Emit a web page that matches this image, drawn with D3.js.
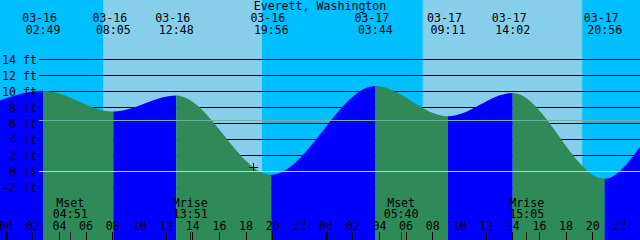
<!DOCTYPE html>
<html>
<head>
<meta charset="utf-8">
<script src="https://cdn.jsdelivr.net/npm/d3@7"></script>
<style>
  html, body { margin: 0; padding: 0; background: #00bfff; overflow: hidden; }
  svg { display: block; }
</style>
</head>
<body>
<svg id="chart-tide"></svg>
<script>
(function () {
  const width = 640;
  const height = 240;

  // values
  const title = "Everett, Washington";
  const extremeTimes = ["03-16 02:49", "03-16 08:05", "03-16 12:48", "03-16 19:56",
                        "03-17 03:44", "03-17 09:11", "03-17 14:02", "03-17 20:56"];
  const extremeLevels = [10.1, 7.5, 9.5, -0.4, 10.7, 6.9, 9.8, -0.9];
  const edgeTimes = ["03-15 23:35", "03-17 23:35"];
  const edgeLevels = [8.9, 3.1];
  const sunTimes = ["03-16 07:19", "03-16 19:14", "03-17 07:17", "03-17 19:15"]; // rise, set, rise, set
  const moonNames = ["Mset", "Mrise", "Mset", "Mrise"];
  const moonTimes = ["03-16 04:51", "03-16 13:51", "03-17 05:40", "03-17 15:05"];
  const levelTicks = [14, 12, 10, 8, 6, 4, 2, 0, -2];
  const mslLevel = 6.4;
  const datumLevel = 0;
  const markTime = "03-16 18:35";
  const markLevel = 0.6;

  const parse = d3.utcParse("%m-%d %H:%M");
  const font = "'DejaVu Sans Mono', monospace";

  const svg = d3
    .select("#chart-tide")
    .attr("width", width)
    .attr("height", height)
    .attr("style", `font: 11.6px ${font}`);

  const xScale = d3
    .scaleUtc()
    .domain([parse(edgeTimes[0]), parse(edgeTimes[1])])
    .range([0, width]);
  const yScale = d3.scaleLinear().domain([0, 14]).range([171.5, 59.5]);

  // sky: night everywhere, day between sunrise and sunset
  svg.append("rect").attr("width", width).attr("height", height).attr("fill", "#00bfff");
  const days = [];
  for (let i = 0; i < sunTimes.length; i += 2) days.push([parse(sunTimes[i]), parse(sunTimes[i + 1])]);
  svg
    .selectAll(".day")
    .data(days)
    .enter()
    .append("rect")
    .attr("x", (d) => xScale(d[0]))
    .attr("y", 0)
    .attr("width", (d) => xScale(d[1]) - xScale(d[0]))
    .attr("height", height)
    .attr("fill", "#87ceeb");

  // black level lines, water covers them
  svg
    .append("g")
    .attr("shape-rendering", "crispEdges")
    .selectAll("line")
    .data(levelTicks)
    .enter()
    .append("line")
    .attr("x1", 39)
    .attr("x2", width)
    .attr("y1", (d) => yScale(d))
    .attr("y2", (d) => yScale(d))
    .attr("stroke", "black");

  // tide curve through the extremes
  const points = edgeTimes
    .map((t, i) => ({ time: parse(t), level: edgeLevels[i] }))
    .concat(extremeTimes.map((t, i) => ({ time: parse(t), level: extremeLevels[i] })))
    .sort((a, b) => a.time - b.time);

  const area = d3
    .area()
    .curve(d3.curveMonotoneX)
    .x((d) => xScale(d.time))
    .y0(height)
    .y1((d) => yScale(d.level));

  svg.append("clipPath").attr("id", "water").append("path").datum(points).attr("d", area);

  const segments = d3.pairs(points);
  svg
    .append("g")
    .attr("clip-path", "url(#water)")
    .selectAll("rect")
    .data(segments)
    .enter()
    .append("rect")
    .attr("x", (d) => xScale(d[0].time))
    .attr("y", 0)
    .attr("width", (d) => xScale(d[1].time) - xScale(d[0].time))
    .attr("height", height)
    .attr("fill", (d) => (d[1].level > d[0].level ? "#0000ff" : "#2e8b57"));

  // mean sea level and datum lines
  svg
    .append("g")
    .attr("shape-rendering", "crispEdges")
    .selectAll("line")
    .data([
      { level: mslLevel, color: "#6db39e" },
      { level: datumLevel, color: "#a6dceb" },
    ])
    .enter()
    .append("line")
    .attr("x1", 39)
    .attr("x2", width)
    .attr("y1", (d) => Math.round(yScale(d.level) - 0.5) + 0.5)
    .attr("y2", (d) => Math.round(yScale(d.level) - 0.5) + 0.5)
    .attr("stroke", (d) => d.color);

  // level labels
  svg
    .append("g")
    .attr("transform", "translate(37,0)")
    .call(d3.axisLeft(yScale).tickValues(levelTicks).tickFormat((d) => `${d} ft`).tickSize(0).tickPadding(0))
    .call((g) => g.select(".domain").remove())
    .call((g) => g.selectAll("text").attr("fill", "black").attr("font-family", font).attr("font-size", "11.6px"));

  // title
  svg
    .append("text")
    .attr("x", width / 2)
    .attr("y", 10)
    .attr("text-anchor", "middle")
    .attr("fill", "black")
    .text(title);

  // high / low tide times
  const ev = svg
    .selectAll(".extreme")
    .data(extremeTimes)
    .enter()
    .append("g")
    .attr("transform", (d) => `translate(${xScale(parse(d))},0)`)
    .attr("text-anchor", "middle")
    .attr("fill", "black");
  ev.append("text").attr("x", -3.5).attr("y", 21.7).text((d) => d.slice(0, 5));
  ev.append("text").attr("y", 33.5).text((d) => d.slice(6));

  // moon rise / set
  const moon = svg
    .selectAll(".moon")
    .data(moonTimes)
    .enter()
    .append("g")
    .attr("transform", (d) => `translate(${xScale(parse(d))},0)`)
    .attr("text-anchor", "middle")
    .attr("fill", "black");
  moon.append("text").attr("y", 206.5).text((d, i) => moonNames[i]);
  moon.append("text").attr("y", 218).text((d) => d.slice(6));
  moon
    .append("line")
    .attr("y1", 232)
    .attr("y2", height)
    .attr("stroke", "#222")
    .attr("shape-rendering", "crispEdges");

  // hour axis along the bottom
  svg
    .append("g")
    .attr("transform", `translate(0,${height})`)
    .call(
      d3
        .axisTop(xScale)
        .ticks(d3.utcHour.every(2))
        .tickFormat(d3.utcFormat("%H"))
        .tickSize(8)
        .tickPadding(2)
    )
    .call((g) => g.select(".domain").remove())
    .call((g) => g.selectAll("line").attr("stroke", "black").attr("shape-rendering", "crispEdges"))
    .call((g) =>
      g
        .selectAll(".tick")
        .filter((d) => d.getUTCHours() === 0)
        .select("line")
        .attr("stroke-width", 3)
    )
    .call((g) => g.selectAll("text").attr("fill", "black").attr("font-family", font).attr("font-size", "11.6px"));

  // current time mark
  svg
    .append("path")
    .attr("transform", `translate(${xScale(parse(markTime))},${yScale(markLevel)})`)
    .attr("d", "M-4,0.5H4.5M0.5,-4V4.5")
    .attr("stroke", "black")
    .attr("fill", "none")
    .attr("shape-rendering", "crispEdges");
})();
</script>
</body>
</html>
